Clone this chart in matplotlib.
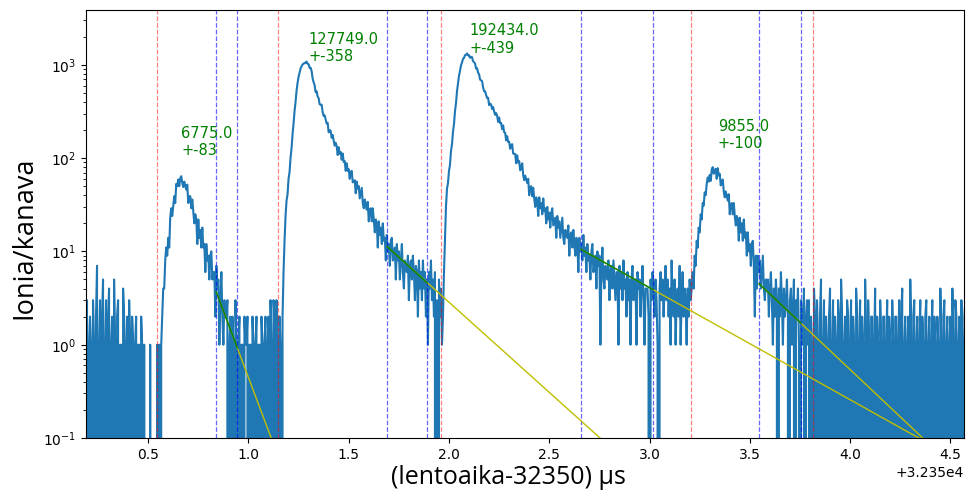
import numpy as np
import matplotlib.pyplot as plt

OFFSET = 32350.0
T0, DT = 0.19, 0.005   # first channel (us, relative to OFFSET) and channel width

# counts per channel, 20 channels (0.1 us) per row
counts_bg_left = [
	2, 3, 0, 1, 2, 1, 0, 3, 1, 0, 2, 7, 0, 1, 3, 0, 2, 5, 0, 1,
	3, 0, 2, 4, 0, 1, 2, 0, 5, 1, 0, 2, 3, 0, 1, 1, 0, 4, 2, 0,
	1, 2, 0, 3, 1, 0, 2, 1, 0, 1, 2, 0, 1, 1, 0, 2, 1, 0, 1, 0,
	0, 0, 0, 0, 1, 0, 0, 0, 0, 0, 0, 1, 0, 1, 0, 1, 2, 4, 4, 8,
]
counts_peak1 = [
	11, 9, 14, 11, 23, 29, 24, 31, 39, 33, 53, 50, 59, 50, 61, 64, 54, 49, 56, 50,
	46, 52, 33, 39, 39, 29, 36, 27, 20, 25, 22, 12, 22, 14, 17, 11, 18, 11, 12, 6,
	12, 8, 9, 5, 9, 10, 5, 6, 6, 2, 7, 4, 5, 1, 3, 6, 2, 1, 3, 2,
	2, 3, 0, 1, 2, 0, 2, 1, 0, 3, 1, 0, 1, 2, 0, 1, 1, 0, 2, 1,
	1, 2, 0, 1, 1, 0, 2, 1, 0, 1, 2, 0, 1, 1, 0, 2, 1, 0, 1, 2,
]
counts_peak2 = [
	0, 1, 2, 0, 3, 1, 0, 3, 2, 0, 3, 1, 0, 2, 1, 0, 2, 6, 13, 24,
	35, 41, 60, 71, 101, 128, 181, 236, 320, 401, 530, 640, 745, 829, 915, 960, 1012, 1024, 1051, 1048,
	1084, 1025, 1016, 928, 930, 858, 716, 650, 605, 508, 520, 458, 440, 378, 372, 374, 313, 283, 287, 260,
	235, 239, 189, 200, 196, 165, 177, 154, 136, 146, 134, 108, 131, 111, 116, 96, 112, 91, 93, 73,
	88, 73, 76, 60, 71, 73, 55, 56, 58, 42, 56, 47, 50, 37, 42, 48, 33, 29, 36, 31,
	28, 34, 21, 28, 29, 21, 29, 22, 16, 22, 20, 11, 21, 15, 18, 12, 20, 13, 14, 8,
	15, 10, 12, 7, 13, 14, 8, 9, 11, 5, 12, 8, 10, 5, 8, 12, 6, 4, 8, 7,
	6, 9, 3, 7, 8, 5, 9, 6, 3, 7, 6, 2, 8, 4, 6, 3, 8, 4, 6, 2,
	5, 1, 6, 4, 8, 3, 5, 2, 6, 0, 3, 0, 5, 2, 4, 1, 2, 6, 14, 30,
]
counts_peak3 = [
	47, 54, 73, 85, 119, 141, 192, 233, 318, 390, 522, 637, 768, 862, 990, 1060, 1160, 1190, 1270, 1280,
	1324, 1266, 1269, 1189, 1219, 1207, 1095, 1067, 1032, 912, 920, 824, 793, 695, 681, 669, 574, 523, 521, 476,
	441, 443, 370, 384, 376, 336, 353, 318, 291, 304, 285, 244, 273, 237, 238, 204, 224, 190, 187, 155,
	172, 149, 150, 126, 139, 141, 112, 111, 111, 88, 107, 90, 93, 74, 80, 88, 66, 58, 65, 59,
	54, 60, 40, 49, 50, 39, 48, 37, 30, 38, 35, 24, 38, 29, 33, 25, 37, 27, 29, 20,
	30, 22, 26, 18, 26, 29, 19, 21, 23, 14, 24, 18, 21, 14, 18, 23, 14, 12, 17, 15,
	14, 19, 9, 15, 16, 11, 17, 12, 9, 14, 12, 6, 14, 10, 12, 8, 15, 9, 11, 6,
	12, 8, 9, 5, 10, 12, 6, 7, 9, 4, 10, 7, 9, 1, 7, 11, 5, 4, 7, 6,
	5, 8, 3, 6, 7, 4, 8, 5, 3, 6, 6, 1, 7, 4, 6, 3, 8, 4, 5, 2,
	6, 3, 5, 1, 5, 7, 3, 4, 5, 1, 6, 4, 5, 2, 4, 7, 3, 1, 4, 4,
	4, 2, 0, 5, 3, 6, 4, 2, 5, 3, 1, 0, 4, 6, 3, 5, 2, 4, 7, 3,
	5, 2, 4, 1, 8, 3, 2, 5, 1, 3, 4, 2, 7, 1, 3, 6, 2, 4, 3, 1,
]
counts_peak4 = [
	4, 2, 5, 3, 4, 6, 4, 9, 7, 13, 11, 18, 16, 25, 22, 33, 31, 43, 40, 53,
	62, 56, 66, 57, 75, 80, 68, 73, 77, 60, 78, 65, 68, 51, 56, 59, 44, 38, 44, 39,
	35, 41, 25, 32, 33, 25, 33, 24, 19, 24, 22, 13, 23, 16, 20, 13, 22, 14, 16, 9,
	16, 10, 12, 7, 12, 13, 7, 2, 9, 4, 9, 6, 8, 4, 6, 9, 4, 3, 5, 4,
	5, 2, 4, 6, 3, 1, 4, 2, 5, 3, 0, 4, 2, 6, 3, 1, 4, 2, 3, 5,
	2, 0, 3, 4, 1, 2, 5, 0, 3, 2, 4, 1, 0, 3, 2, 1, 4, 0, 2, 3,
]
counts_bg_right = [
	1, 3, 0, 2, 1, 0, 4, 2, 0, 3, 1, 0, 2, 5, 0, 1, 3, 0, 2, 1,
	0, 2, 4, 0, 1, 3, 0, 2, 1, 0, 3, 2, 0, 5, 2, 0, 1, 2, 0, 3,
	2, 0, 1, 3, 0, 2, 1, 0, 4, 2, 0, 1, 3, 0, 2, 1, 0, 5, 1, 0,
	3, 1, 0, 2, 2, 0, 1, 4, 0, 2, 1, 0, 3, 1, 0, 2, 2, 0, 1, 3,
	0, 2, 1, 0, 3, 1, 0, 2, 2, 0, 1, 3, 0, 2, 4, 0, 1, 2, 0, 1,
	2, 0, 5, 1, 0, 2, 3, 0, 1, 2, 0, 1, 3, 0, 2, 1, 0, 2, 3, 0,
	1, 2, 0, 1, 3, 0, 2, 1, 0, 2, 1, 0, 4, 1, 0, 2, 3, 0, 1, 2,
	0, 1, 2, 0, 4, 1, 0, 3, 2, 0, 1, 2, 0, 3, 1, 0, 2, 3, 0, 2,
]

# integration windows (red) and fit windows (blue), us relative to OFFSET
red_lines = [0.545, 1.148, 1.961, 3.207, 3.815]
blue_lines = [0.839, 0.944, 1.691, 1.891, 2.659, 3.017, 3.546, 3.755]

# exponential tail fits: start / end of fit window and extrapolated end
fit_x0 = [0.839, 1.691, 2.659, 3.546]
fit_y0 = [3.7, 11.3, 10.5, 4.5]
fit_x1 = [0.944, 1.891, 3.017, 3.755]
fit_y1 = [0.93, 4.6, 3.9, 1.7]
ext_x = [1.2, 2.9, 4.6, 4.6]
ext_y = [0.032, 0.052, 0.049, 0.033]

# peak areas and errors
areas = [6775.0, 127749.0, 192434.0, 9855.0]
errors = [83, 358, 439, 100]
label_x = [0.665, 1.299, 2.10, 3.34]
label_y = [100, 1020, 1250, 119]


def main():
	counts = np.array(counts_bg_left + counts_peak1 + counts_peak2 + counts_peak3
		+ counts_peak4 + counts_bg_right, dtype=float)
	t = OFFSET + T0 + DT * np.arange(len(counts))

	fig = plt.figure(figsize=(9.67, 4.93), dpi=100)
	ax = fig.add_axes([86 / 967, 55 / 493, 878 / 967, 428 / 493])

	ax.plot(t, counts, color='#1f77b4', lw=1.5)
	ax.set_yscale('log')

	for x in red_lines:
		ax.axvline(OFFSET + x, color='r', ls='--', lw=0.9, alpha=0.5)
	for x in blue_lines:
		ax.axvline(OFFSET + x, color='b', ls='--', lw=0.9, alpha=0.6)

	for i in range(len(fit_x0)):
		ax.plot([OFFSET + fit_x0[i], OFFSET + ext_x[i]], [fit_y0[i], ext_y[i]], color='y', lw=1.0)
		ax.plot([OFFSET + fit_x0[i], OFFSET + fit_x1[i]], [fit_y0[i], fit_y1[i]], color='g', lw=1.0)

	for i in range(len(areas)):
		ax.text(OFFSET + label_x[i], label_y[i], '%.1f\n+-%d' % (areas[i], errors[i]),
			color='g', fontsize=10.5, ha='left', va='bottom')

	ax.set_xlim(OFFSET + 0.19, OFFSET + 4.568)
	ax.set_ylim(0.1, 3870)

	ax.set_xlabel('(lentoaika-32350) µs', fontsize=18, family=['Open Sans', 'DejaVu Sans'])
	ax.set_ylabel('Ionia/kanava', fontsize=19.5, family=['Open Sans', 'DejaVu Sans'])
	ax.xaxis.set_label_coords(0.4806, -0.062)
	ax.yaxis.set_label_coords(-0.0547, 0.4685)

	fig.savefig('out.png', dpi=100)

main()
